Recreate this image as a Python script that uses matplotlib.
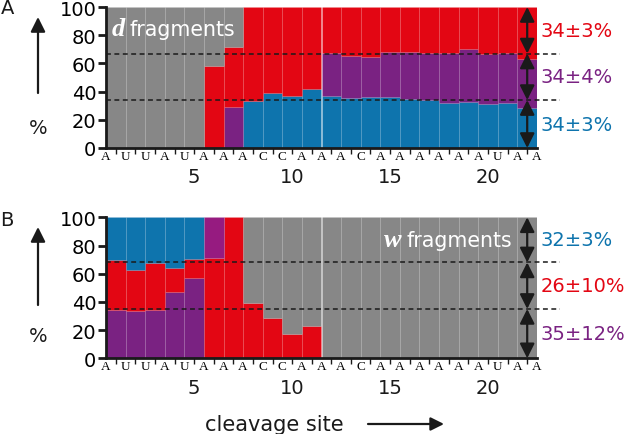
import numpy as np
import matplotlib
matplotlib.use("Agg")
import matplotlib.pyplot as plt
from matplotlib.transforms import blended_transform_factory

plt.rcParams['font.family'] = ['DejaVu Sans']

# ---------------- data ----------------
sequence = list("AUUAUAAACCAAACAAAAAAUAA")          # 23 nucleotides
sites = list(range(1, 23))                           # 22 cleavage sites
num_ticks = [5, 10, 15, 20]
y_ticks = [0, 20, 40, 60, 80, 100]

# Panel A (d fragments), stacked bottom -> top: blue, purple, red, (gray remainder)
A_blue   = [0, 0, 0, 0, 0, 0, 0, 33.5, 38.8, 36.7, 41.8, 36.7, 35.5, 36.0, 36.0, 34.8, 34.3, 31.9, 32.6, 31.2, 31.9, 28.6]
A_purple = [0, 0, 0, 0, 0, 0, 29.3, 0, 0, 0, 0, 30.5, 30.0, 28.8, 31.9, 33.1, 32.9, 35.3, 37.6, 35.5, 35.5, 34.5]
A_red    = [0, 0, 0, 0, 0, 57.9, 42.5, 66.5, 61.2, 63.3, 58.2, 32.8, 34.5, 35.2, 32.1, 32.1, 32.8, 32.8, 29.8, 33.3, 32.6, 36.9]
A_lines = [34, 67]
A_labels = ["34±3%", "34±4%", "34±3%"]   # top, middle, bottom

# Panel B (w fragments), stacked bottom -> top: purple, red, blue, magenta, (gray remainder)
B_purple  = [34.0, 33.5, 34.0, 47.0, 57.2, 0, 0, 0, 0, 0, 0, 0, 0, 0, 0, 0, 0, 0, 0, 0, 0, 0]
B_red     = [35.5, 29.3, 33.8, 17.3, 13.0, 70.9, 100, 39.4, 28.8, 17.5, 22.9, 0, 0, 0, 0, 0, 0, 0, 0, 0, 0, 0]
B_blue    = [30.5, 37.2, 32.2, 35.7, 29.8, 0, 0, 0, 0, 0, 0, 0, 0, 0, 0, 0, 0, 0, 0, 0, 0, 0]
B_magenta = [0, 0, 0, 0, 0, 29.1, 0, 0, 0, 0, 0, 0, 0, 0, 0, 0, 0, 0, 0, 0, 0, 0]
B_lines = [35, 68]
B_labels = ["32±3%", "26±10%", "35±12%"]

# ---------------- styles ----------------
RED = "#E30613"
BLUE = "#0E74AD"
PURPLE = "#7A2282"
MAGENTA = "#961B80"
GRAY = "#878787"
DARK = "#1a1a1a"

W, H = 624, 435
fig = plt.figure(figsize=(W / 100, H / 100), dpi=100)

def fx(px):
    return px / W

def fy(py):
    return 1 - py / H

axA = fig.add_axes([fx(106), fy(149), fx(537) - fx(106), fy(8) - fy(149)])
axB = fig.add_axes([fx(106), fy(359.3), fx(537) - fx(106), fy(218.3) - fy(359.3)])


def draw_panel(ax, series, lines, labels, label_colors):
    x = np.array(sites)
    bottom = np.zeros(len(sites))
    edge = (1, 1, 1, 0.04)
    for vals, col in series:
        v = np.array(vals, dtype=float)
        ax.bar(x, v, width=1.0, bottom=bottom, color=col, edgecolor=edge, linewidth=0.5, zorder=2)
        bottom = bottom + v
    rest = 100 - bottom
    ax.bar(x, rest, width=1.0, bottom=bottom, color=GRAY, edgecolor=edge, linewidth=0.5, zorder=2)

    ax.set_xlim(0.5, 22.5)
    ax.set_ylim(0, 100)
    for s in ["top", "right"]:
        ax.spines[s].set_visible(False)
    for s in ["left", "bottom"]:
        ax.spines[s].set_linewidth(2.0)
        ax.spines[s].set_color(DARK)
        ax.spines[s].set_zorder(5)

    ax.set_yticks(y_ticks)
    ax.tick_params(axis="y", length=6, width=2.0, color=DARK, labelsize=14, pad=1, direction="out")
    # letters at half-integer positions, small ticks at sites
    ax.set_xticks(np.arange(0.5, 23.0, 1.0))
    ax.set_xticklabels(sequence, fontfamily="Liberation Serif", fontsize=9.5)
    ax.tick_params(axis="x", which="major", length=0, pad=1.5)
    ax.set_xticks(sites, minor=True)
    ax.tick_params(axis="x", which="minor", length=4.5, width=1.0, color=DARK, direction="out")

    trans = blended_transform_factory(ax.transData, ax.transAxes)
    for n in num_ticks:
        ax.text(n, -0.205, str(n), transform=trans, ha="center", va="center", fontsize=14, color=DARK)

    # dashed lines
    for yl in lines:
        ax.plot([0.5, 23.65], [yl, yl], ls=(0, (3.2, 2.3)), color=DARK, lw=1.1, clip_on=False, zorder=4)

    # double arrows
    bounds = [100, lines[1], lines[0], 0]
    for i in range(3):
        ax.annotate("", xy=(22, bounds[i]), xytext=(22, bounds[i + 1]),
                    arrowprops=dict(arrowstyle="<|-|>", mutation_scale=22, lw=1.6,
                                    color=DARK, shrinkA=0, shrinkB=0),
                    annotation_clip=False, zorder=6)
        ax.text(1.008, (bounds[i] + bounds[i + 1]) / 200, labels[i], transform=ax.transAxes,
                ha="left", va="center", fontsize=14, color=label_colors[i])


draw_panel(axA, [(A_blue, BLUE), (A_purple, PURPLE), (A_red, RED)], A_lines, A_labels,
           [RED, PURPLE, BLUE])
draw_panel(axB, [(B_purple, PURPLE), (B_red, RED), (B_blue, BLUE), (B_magenta, MAGENTA)], B_lines, B_labels,
           [BLUE, RED, PURPLE])

# fragment titles
fig.text(fx(112), fy(36), "d", fontfamily="Liberation Serif", fontweight="bold", fontstyle="italic",
         fontsize=19, color="white", ha="left", va="baseline")
fig.text(fx(129), fy(36), "fragments", fontsize=14.8, color="white", ha="left", va="baseline")
fig.text(fx(512), fy(247), "fragments", fontsize=14.8, color="white", ha="right", va="baseline")
fig.text(fx(402), fy(247), "w", fontfamily="Liberation Serif", fontweight="bold", fontstyle="italic",
         fontsize=19, color="white", ha="right", va="baseline")

# panel letters
fig.text(fx(8), fy(9), "A", fontsize=14, color=DARK, ha="center", va="center")
fig.text(fx(7), fy(220), "B", fontsize=14, color=DARK, ha="center", va="center")

# y-axis arrows and %
for y_tip, y_tail, y_pct in [(18, 94, 128), (228, 306, 337)]:
    fig.add_artist(matplotlib.patches.FancyArrowPatch(
        (fx(38), fy(y_tail)), (fx(38), fy(y_tip)), transform=fig.transFigure,
        arrowstyle="-|>", mutation_scale=22, lw=1.6, color=DARK, shrinkA=0, shrinkB=0))
    fig.text(fx(38), fy(y_pct), "%", fontsize=14, color=DARK, ha="center", va="center")

# bottom label
fig.text(fx(274), fy(425), "cleavage site", fontsize=15, color=DARK, ha="center", va="center")
fig.add_artist(matplotlib.patches.FancyArrowPatch(
    (fx(368), fy(425)), (fx(444), fy(425)), transform=fig.transFigure,
    arrowstyle="-|>", mutation_scale=20, lw=1.6, color=DARK, shrinkA=0, shrinkB=0))

fig.savefig("out.png", dpi=100)
